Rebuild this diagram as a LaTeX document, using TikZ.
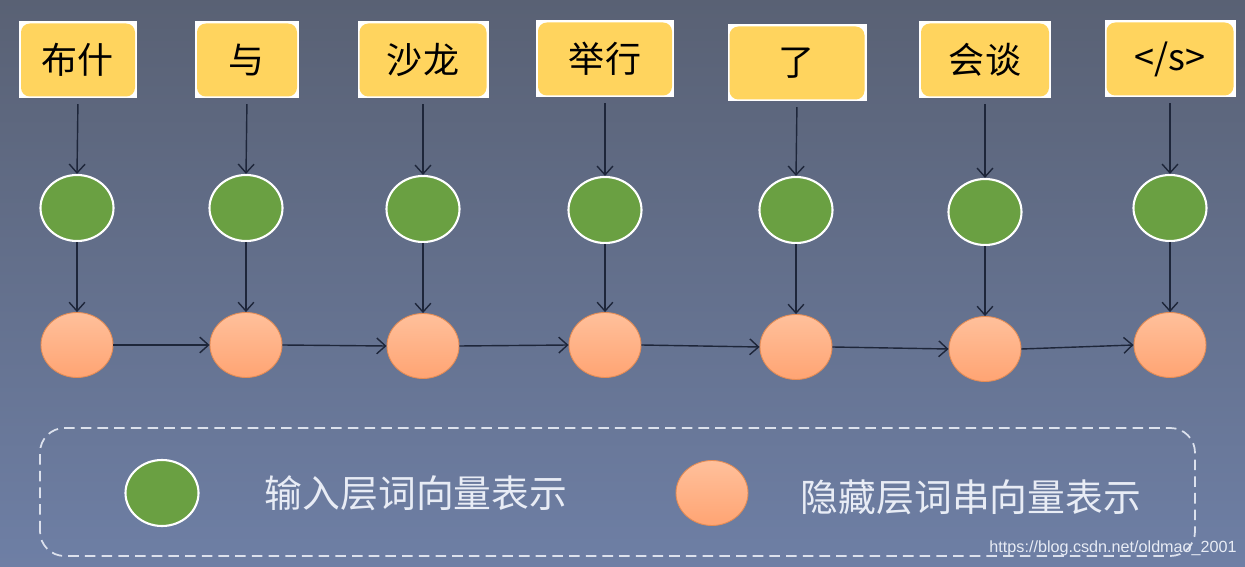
\documentclass[tikz,border=0pt]{standalone}
\usepackage{fontspec}
\newfontfamily\cjk{Noto Sans CJK SC}
\newfontfamily\wmark{Liberation Sans}
\usepackage{tikz}
\usetikzlibrary{arrows.meta,positioning,calc,shapes.geometric}

\definecolor{bgtop}{RGB}{89,97,116}
\definecolor{bgbot}{RGB}{110,127,165}
\definecolor{wyellow}{RGB}{255,212,94}
\definecolor{embgreen}{RGB}{106,160,66}
\definecolor{hidtop}{RGB}{255,192,155}
\definecolor{hidbot}{RGB}{255,164,115}
\definecolor{hidedge}{RGB}{228,140,85}
\definecolor{arrowc}{RGB}{30,38,58}
\definecolor{legtxt}{RGB}{232,236,245}

\begin{document}
\begin{tikzpicture}[
    frame/.style={fill=white, inner sep=0pt, minimum height=1.54cm},
    word/.style={fill=wyellow, rounded corners=5pt, inner sep=0pt,
                 minimum height=1.46cm, font=\cjk\fontsize{20.5}{24}\selectfont, text=black},
    emb/.style={ellipse, draw=white, line width=1.2pt, fill=embgreen,
                minimum width=1.46cm, minimum height=1.32cm, inner sep=0pt},
    hid/.style={ellipse, draw=hidedge, line width=0.5pt, top color=hidtop, bottom color=hidbot,
                minimum width=1.44cm, minimum height=1.30cm, inner sep=0pt},
    arr/.style={-{Straight Barb[length=5pt,width=9pt]}, line width=0.8pt, arrowc},
    leg/.style={font=\cjk\fontsize{21.5}{24}\selectfont, text=legtxt}
  ]
    %% ── background ──
    \useasboundingbox (0,0) rectangle (24.9,11.34);
    \shade[top color=bgtop, bottom color=bgbot] (0,0) rectangle (24.9,11.34);

    %% ── words ──
    \node[frame, minimum width=2.36cm] (wf1) at (1.56,10.14)  {};
    \node[word,  minimum width=2.28cm] (wd1) at (wf1)          {布什};
    \node[frame, minimum width=2.08cm] (wf2) at (4.94,10.14)  {};
    \node[word,  minimum width=2.00cm] (wd2) at (wf2)          {与};
    \node[frame, minimum width=2.62cm] (wf3) at (8.46,10.14)  {};
    \node[word,  minimum width=2.54cm] (wd3) at (wf3)          {沙龙};
    \node[frame, minimum width=2.76cm] (wf4) at (12.10,10.16) {};
    \node[word,  minimum width=2.68cm] (wd4) at (wf4)          {举行};
    \node[frame, minimum width=2.78cm] (wf5) at (15.94,10.08) {};
    \node[word,  minimum width=2.70cm] (wd5) at (wf5)          {了};
    \node[frame, minimum width=2.64cm] (wf6) at (19.70,10.14) {};
    \node[word,  minimum width=2.56cm] (wd6) at (wf6)          {会谈};
    \node[frame, minimum width=2.62cm] (wf7) at (23.40,10.16) {};
    \node[word,  minimum width=2.54cm] (wd7) at (wf7)          {</s>};

    %% ── input layer ──
    \node[emb] (ev1) at (1.54,7.18)  {};
    \node[emb] (ev2) at (4.92,7.18)  {};
    \node[emb] (ev3) at (8.46,7.16)  {};
    \node[emb] (ev4) at (12.10,7.14) {};
    \node[emb] (ev5) at (15.92,7.14) {};
    \node[emb] (ev6) at (19.70,7.10) {};
    \node[emb] (ev7) at (23.40,7.18) {};

    %% ── hidden layer ──
    \node[hid] (hv1) at (1.54,4.44)  {};
    \node[hid] (hv2) at (4.92,4.44)  {};
    \node[hid] (hv3) at (8.46,4.42)  {};
    \node[hid] (hv4) at (12.10,4.44) {};
    \node[hid] (hv5) at (15.92,4.40) {};
    \node[hid] (hv6) at (19.70,4.36) {};
    \node[hid] (hv7) at (23.40,4.44) {};

    %% ── arrows ──
    \draw[arr, shorten <=3pt] (wf1.south) -- (ev1.north);
    \draw[arr, shorten <=3pt] (wf2.south) -- (ev2.north);
    \draw[arr, shorten <=3pt] (wf3.south) -- (ev3.north);
    \draw[arr, shorten <=3pt] (wf4.south) -- (ev4.north);
    \draw[arr, shorten <=3pt] (wf5.south) -- (ev5.north);
    \draw[arr, shorten <=3pt] (wf6.south) -- (ev6.north);
    \draw[arr, shorten <=3pt] (wf7.south) -- (ev7.north);
    \draw[arr] (ev1.south) -- (hv1.north);
    \draw[arr] (ev2.south) -- (hv2.north);
    \draw[arr] (ev3.south) -- (hv3.north);
    \draw[arr] (ev4.south) -- (hv4.north);
    \draw[arr] (ev5.south) -- (hv5.north);
    \draw[arr] (ev6.south) -- (hv6.north);
    \draw[arr] (ev7.south) -- (hv7.north);
    \draw[arr] (hv1.east) -- (hv2.west);
    \draw[arr] (hv2.east) -- (hv3.west);
    \draw[arr] (hv3.east) -- (hv4.west);
    \draw[arr] (hv4.east) -- (hv5.west);
    \draw[arr] (hv5.east) -- (hv6.west);
    \draw[arr] (hv6.east) -- (hv7.west);

    %% ── legend ──
    \draw[legtxt!90!bgbot, line width=1pt, dash pattern=on 6pt off 3.5pt, rounded corners=14pt]
      (0.80,0.22) rectangle (23.90,2.78);
    \node[emb] (lg1) at (3.24,1.48)  {};
    \node[leg] (lt1) at (8.32,1.48)  {输入层词向量表示};
    \node[hid] (lg2) at (14.24,1.48) {};
    \node[leg] (lt2) at (19.42,1.40) {隐藏层词串向量表示};
    \node[font=\wmark\fontsize{9.2}{10}\selectfont, text=legtxt, inner sep=0pt, anchor=east] (wm)
      at (24.74,0.38) {https://blog.csdn.net/oldmao\_2001};
\end{tikzpicture}
\end{document}
